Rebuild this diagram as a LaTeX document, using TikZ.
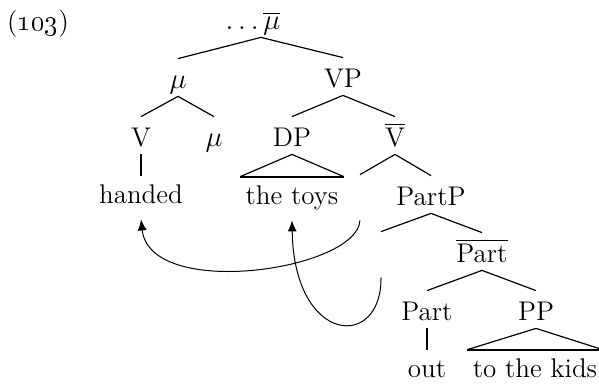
\documentclass[tikz,border=0pt]{standalone}
\usetikzlibrary{arrows.meta}
\begin{document}
\begin{tikzpicture}[x=0.5pt,y=-0.5pt,
  font=\fontsize{13.5}{16}\selectfont,
  cat/.style={anchor=base, inner sep=2.5pt, text height=12pt, text depth=1.5pt},
  leaf/.style={anchor=base, inner sep=2.5pt, text height=11pt, text depth=1.5pt},
  branch/.style={line width=0.6pt},
  stem/.style={line width=1pt},
  move/.style={line width=0.5pt, -{Latex[length=5.5pt,width=4.5pt]}}]
\useasboundingbox (0,0) rectangle (599,386);
% example number
\node[anchor=base] (ex) at (38,30) {(\oldstylenums{103})};
% tree nodes
\node[cat] (top) at (253,29) {$\dots\overline{\mu}$};
\coordinate (topb) at ([xshift=4pt]top.south);
\node[cat] (mu1) at (178,88) {$\mu$};
\node[cat] (VP) at (343,87) {VP};
\node[cat] (V) at (141,146) {V};
\node[cat] (mu2) at (214,146) {$\mu$};
\node[cat] (DP) at (292,146) {DP};
\node[cat] (Vbar) at (395,146) {$\overline{\mbox{V}}$};
\node[leaf] (handed) at (141,203) {handed};
\node[leaf] (toys) at (292,204) {the toys};
\node[cat] (t1) at (360,204) {};
\node[cat] (PartP) at (431,205) {PartP};
\node[cat] (t2) at (381,261) {};
\node[cat] (Partbar) at (482,262) {$\overline{\mbox{Part}}$};
\node[cat] (Part) at (427,320) {Part};
\node[cat] (PP) at (536,320) {PP};
\node[leaf] (out) at (427,377) {out};
\node[leaf] (kids) at (535,377) {to the kids};
% branches
\draw[branch] (topb) -- (mu1.north) (topb) -- (VP.north);
\draw[branch] (mu1.south) -- (V.north) (mu1.south) -- (mu2.north);
\draw[branch] (VP.south) -- (DP.north) (VP.south) -- (Vbar.north);
\draw[stem] (V.south) -- (handed.north);
\draw[branch] (toys.north west) -- (DP.south) -- (toys.north east);
\draw[stem] (toys.north west) -- (toys.north east);
\draw[branch] (Vbar.south) -- (t1.north) (Vbar.south) -- (PartP.north);
\draw[branch] (PartP.south) -- (t2.north) (PartP.south) -- (Partbar.north);
\draw[branch] (Partbar.south) -- (Part.north) (Partbar.south) -- (PP.north);
\draw[stem] (Part.south) -- (out.north);
\draw[branch] (kids.north west) -- (PP.south) -- (kids.north east);
\draw[stem] (kids.north west) -- (kids.north east);
% movement arrows
\draw[move] ([yshift=-4pt]t1.south) .. controls +(-3,50) and +(9,81) .. ([yshift=-4pt]handed.south);
\draw[move] ([yshift=-4pt]t2.south) .. controls +(1,73) and +(2,125) .. ([yshift=-4pt]toys.south);
\end{tikzpicture}
\end{document}
